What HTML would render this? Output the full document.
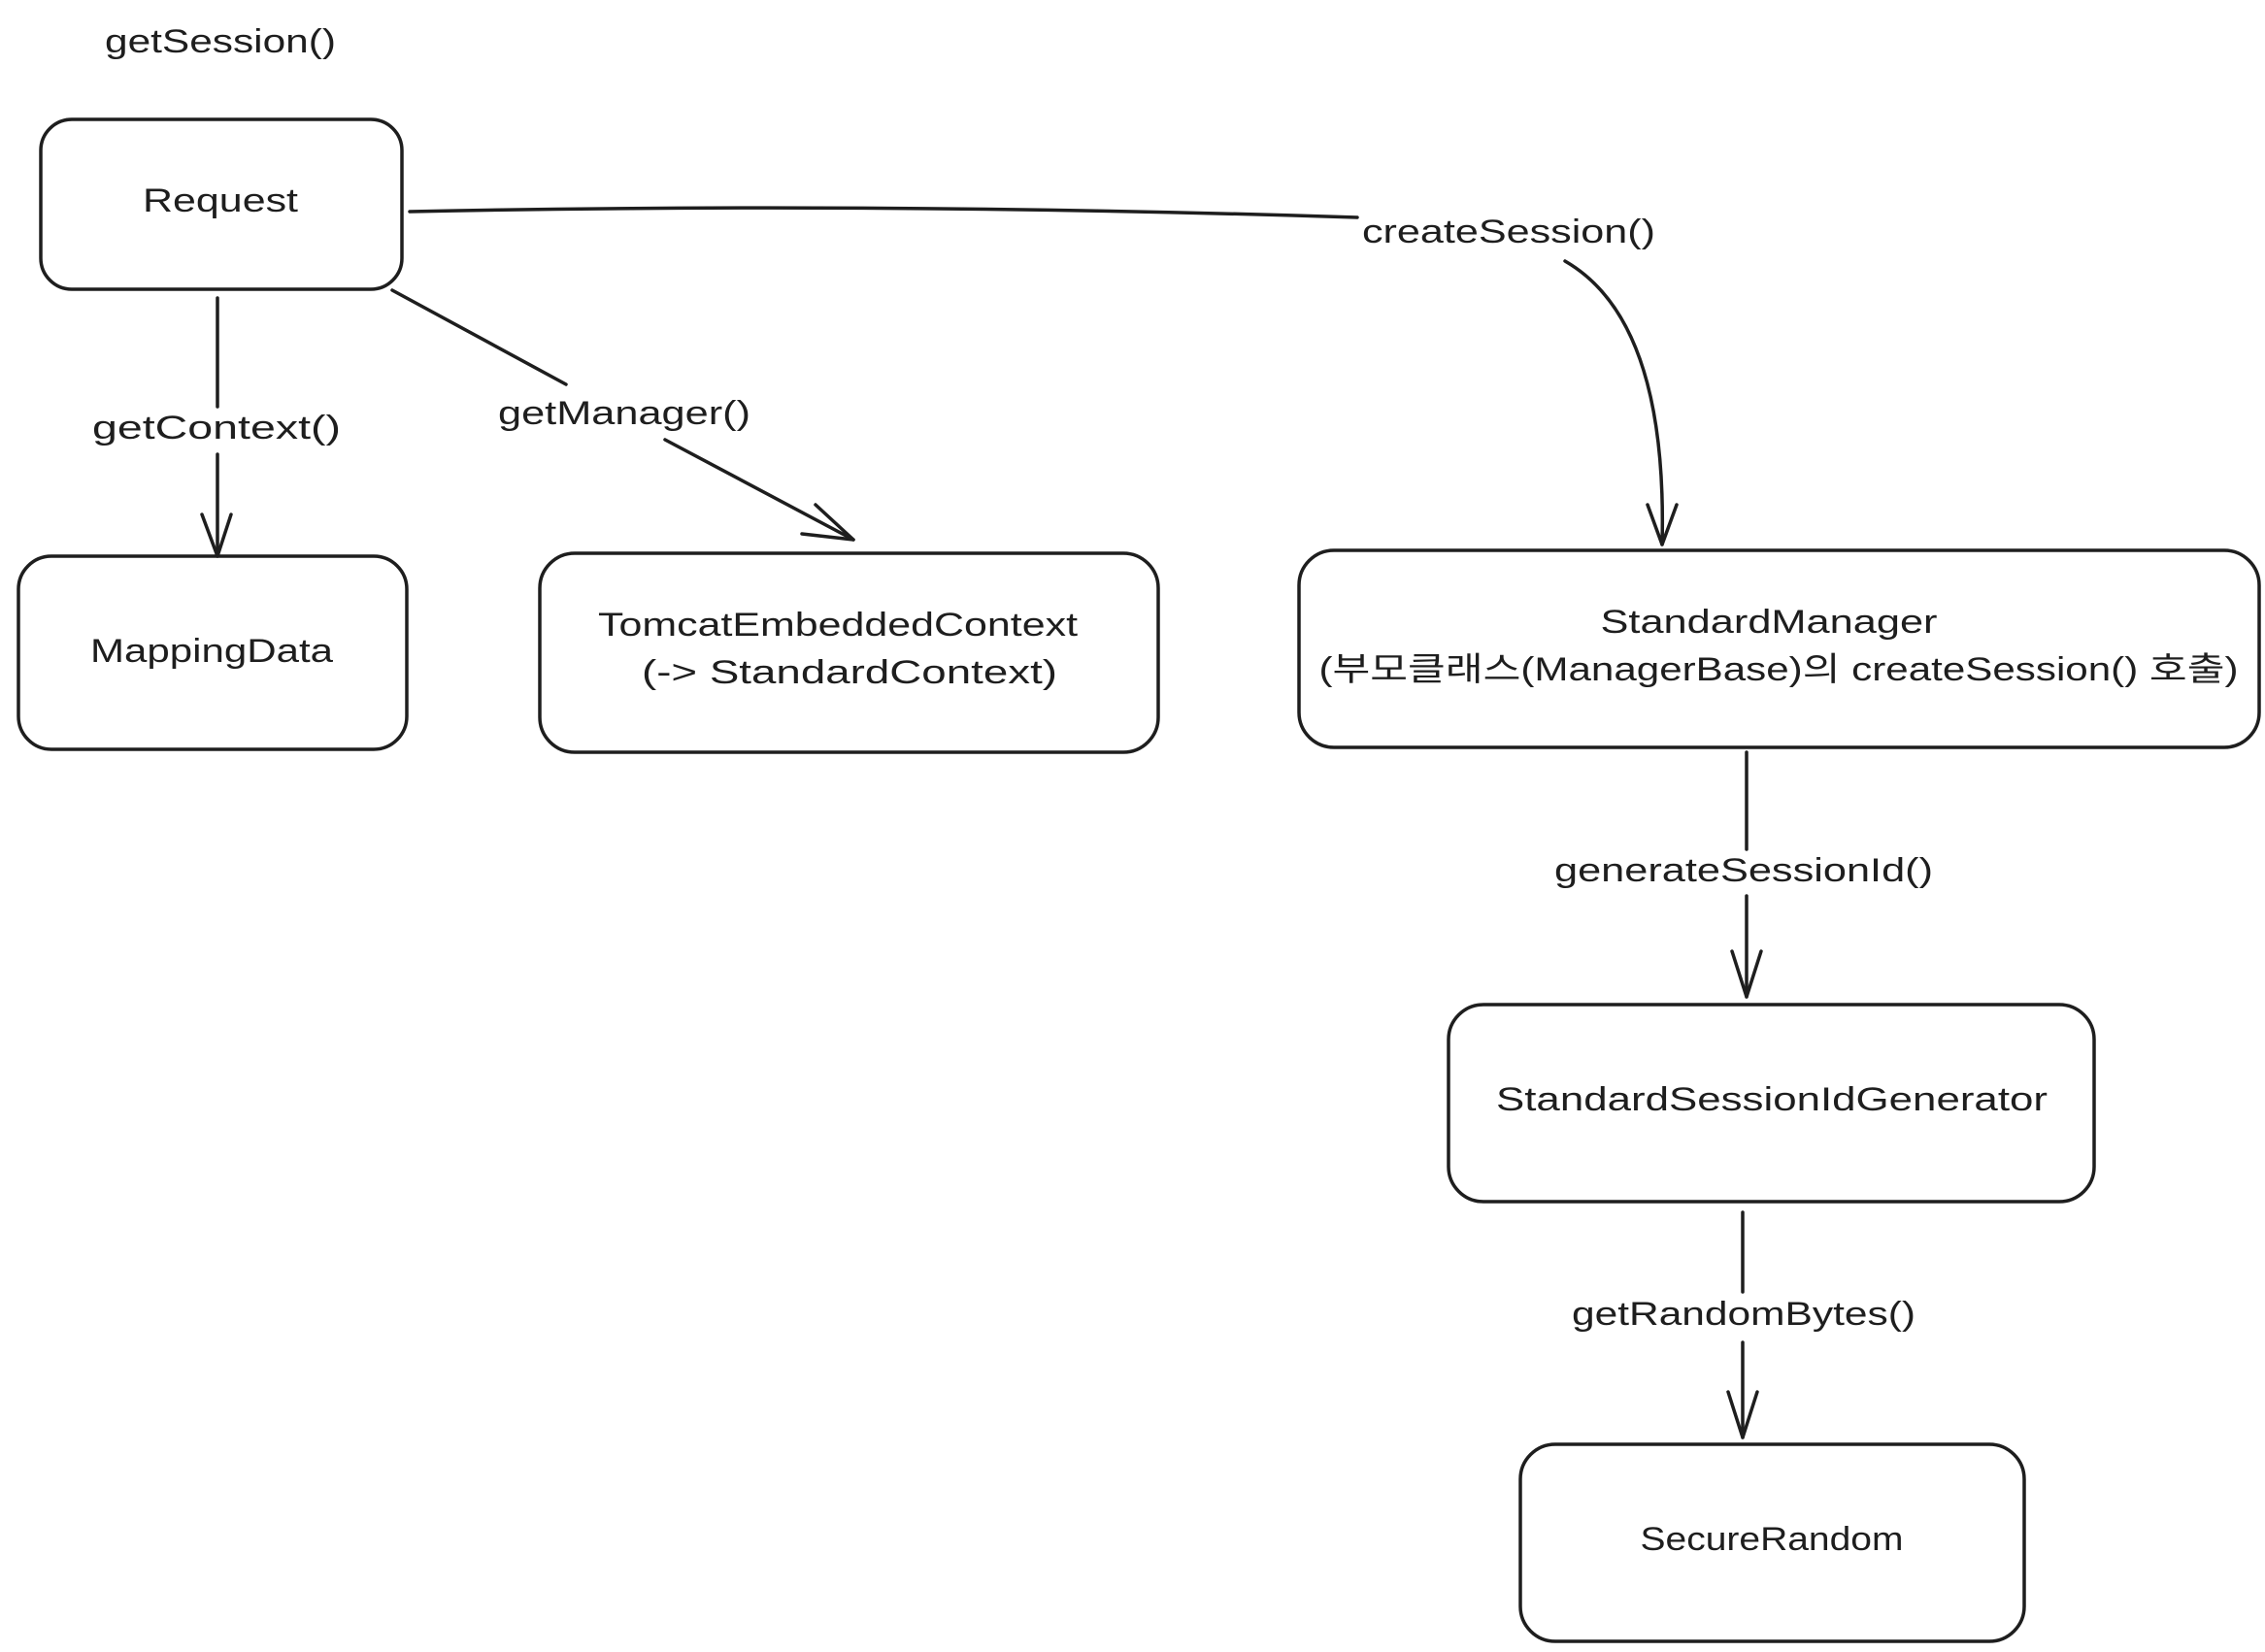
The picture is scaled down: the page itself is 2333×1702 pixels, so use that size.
<!DOCTYPE html>
<html><head><meta charset="utf-8"><style>
html,body{margin:0;padding:0;background:#fff;}
svg{display:block;}
text{font-family:"Liberation Sans","Noto Sans CJK KR",sans-serif;font-size:34px;fill:#1e1e1e;text-anchor:middle;dominant-baseline:middle;}
</style></head><body>
<svg width="2333" height="1702" viewBox="0 0 2333 1702" xmlns="http://www.w3.org/2000/svg">
<g fill="none" stroke="#1e1e1e" stroke-width="3.5" stroke-linecap="round" stroke-linejoin="round">
<rect x="42" y="123" width="372" height="175" rx="32"/>
<rect x="19" y="573" width="400" height="199" rx="34"/>
<rect x="556" y="570" width="637" height="205" rx="36"/>
<rect x="1338" y="567" width="989" height="203" rx="36"/>
<rect x="1492" y="1035" width="665" height="203" rx="36"/>
<rect x="1566" y="1488" width="519" height="203" rx="36"/>
<!-- createSession -->
<path d="M422 218 Q900 208 1398 224"/>
<path d="M1612 269 Q1718 330 1712 561"/>
<path d="M1697 520 L1712 561 L1727 520"/>
<!-- getContext -->
<path d="M224 307 L224 419"/>
<path d="M224 468 L224 573"/>
<path d="M208 530 L224 573 L238 530"/>
<!-- getManager -->
<path d="M404 299 L583 396"/>
<path d="M685 453 L879 556"/>
<path d="M840 520 L879 556 L826 550"/>
<!-- generateSessionId -->
<path d="M1799 775 L1799 875"/>
<path d="M1799 923 L1799 1027"/>
<path d="M1784 980 L1799 1027 L1814 980"/>
<!-- getRandomBytes -->
<path d="M1795 1249 L1795 1331"/>
<path d="M1795 1383 L1795 1481"/>
<path d="M1780 1434 L1795 1481 L1810 1434"/>
</g>
<text x="227" y="45" textLength="238" lengthAdjust="spacingAndGlyphs">getSession()</text>
<text x="227" y="209" textLength="160" lengthAdjust="spacingAndGlyphs">Request</text>
<text x="223" y="443" textLength="256" lengthAdjust="spacingAndGlyphs">getContext()</text>
<text x="643" y="428" textLength="260" lengthAdjust="spacingAndGlyphs">getManager()</text>
<text x="218" y="673" textLength="250" lengthAdjust="spacingAndGlyphs">MappingData</text>
<text x="863" y="646" textLength="494" lengthAdjust="spacingAndGlyphs">TomcatEmbeddedContext</text>
<text x="875" y="695" textLength="428" lengthAdjust="spacingAndGlyphs">(-&gt; StandardContext)</text>
<text x="1554" y="241" textLength="302" lengthAdjust="spacingAndGlyphs">createSession()</text>
<text x="1822" y="643" textLength="347" lengthAdjust="spacingAndGlyphs">StandardManager</text>
<text x="1832" y="692" textLength="947" lengthAdjust="spacingAndGlyphs">(부모클래스(ManagerBase)의 createSession() 호출)</text>
<text x="1796" y="899" textLength="390" lengthAdjust="spacingAndGlyphs">generateSessionId()</text>
<text x="1825" y="1135" textLength="568" lengthAdjust="spacingAndGlyphs">StandardSessionIdGenerator</text>
<text x="1796" y="1356" textLength="354" lengthAdjust="spacingAndGlyphs">getRandomBytes()</text>
<text x="1825" y="1588" textLength="271" lengthAdjust="spacingAndGlyphs">SecureRandom</text>
</svg>
</body></html>
